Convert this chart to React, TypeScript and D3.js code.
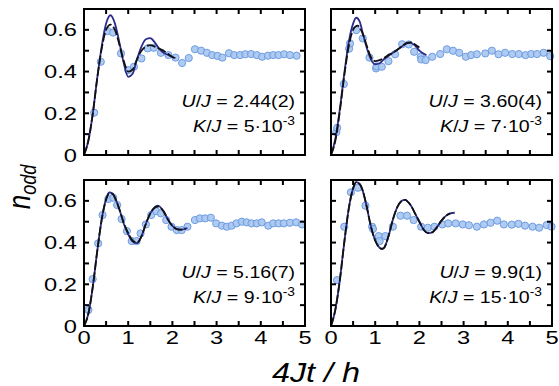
import React from 'react';
import * as d3 from 'd3';

// measured points (4Jt/h, n_odd) for each panel
const dataA = [[0.23,0.203],[0.38,0.447],[0.535,0.594],[0.656,0.587],[0.837,0.487],[1.0,0.407],[1.13,0.423],[1.30,0.463],[1.44,0.511],[1.58,0.514],[1.74,0.490],[1.91,0.479],[2.07,0.467],[2.22,0.441],[2.37,0.465],[2.51,0.507],[2.65,0.50],[2.78,0.490],[2.90,0.479],[3.02,0.475],[3.13,0.467],[3.28,0.488],[3.40,0.479],[3.53,0.479],[3.65,0.483],[3.78,0.484],[3.91,0.479],[4.03,0.471],[4.16,0.476],[4.28,0.479],[4.40,0.479],[4.53,0.483],[4.66,0.479],[4.81,0.476]];
const dataB = [[0.12,0.11],[0.14,0.13],[0.29,0.34],[0.41,0.51],[0.43,0.535],[0.57,0.599],[0.72,0.559],[0.87,0.467],[1.02,0.415],[1.03,0.425],[1.15,0.423],[1.30,0.45],[1.45,0.483],[1.61,0.531],[1.76,0.53],[1.88,0.495],[2.03,0.471],[2.04,0.458],[2.14,0.455],[2.29,0.471],[2.47,0.484],[2.62,0.507],[2.76,0.50],[2.90,0.49],[3.05,0.471],[3.17,0.479],[3.30,0.483],[3.49,0.487],[3.64,0.50],[3.79,0.483],[3.94,0.490],[4.10,0.484],[4.25,0.484],[4.40,0.479],[4.53,0.484],[4.66,0.484],[4.81,0.490],[4.96,0.474]];
const dataC = [[0.10,0.077],[0.196,0.225],[0.32,0.396],[0.42,0.532],[0.55,0.609],[0.66,0.615],[0.75,0.580],[0.85,0.513],[0.97,0.455],[1.08,0.407],[1.19,0.407],[1.28,0.444],[1.40,0.487],[1.52,0.532],[1.63,0.551],[1.74,0.54],[1.86,0.508],[1.98,0.476],[2.10,0.46],[2.21,0.46],[2.34,0.476],[2.51,0.508],[2.62,0.516],[2.74,0.516],[2.87,0.519],[2.99,0.492],[3.12,0.481],[3.23,0.476],[3.34,0.481],[3.45,0.492],[3.57,0.50],[3.68,0.497],[3.79,0.492],[3.91,0.492],[4.02,0.497],[4.17,0.481],[4.28,0.492],[4.40,0.492],[4.52,0.492],[4.66,0.495],[4.80,0.497],[4.93,0.487]];
const dataD = [[0.136,0.22],[0.30,0.476],[0.45,0.641],[0.61,0.663],[0.78,0.577],[0.93,0.476],[0.95,0.465],[1.08,0.431],[1.10,0.407],[1.23,0.431],[1.40,0.476],[1.57,0.529],[1.72,0.529],[1.87,0.508],[2.04,0.476],[2.19,0.471],[2.34,0.476],[2.52,0.487],[2.65,0.492],[2.82,0.492],[2.98,0.487],[3.12,0.483],[3.30,0.476],[3.46,0.487],[3.61,0.495],[3.76,0.505],[3.91,0.487],[4.09,0.486],[4.24,0.49],[4.39,0.481],[4.56,0.476],[4.71,0.471],[4.88,0.484],[4.99,0.476]];

// theory curves
const blueA = [[0,0],[0.1,0.07],[0.2,0.2],[0.3,0.37],[0.4,0.52],[0.5,0.63],[0.6,0.67],[0.7,0.63],[0.8,0.54],[0.9,0.44],[1.0,0.375],[1.1,0.39],[1.2,0.46],[1.3,0.52],[1.4,0.555],[1.5,0.56],[1.6,0.54],[1.7,0.51],[1.8,0.49],[1.9,0.48],[2.0,0.47],[2.07,0.465]];
const blackA = [[0,0],[0.1,0.07],[0.2,0.2],[0.3,0.37],[0.4,0.51],[0.5,0.6],[0.6,0.625],[0.7,0.6],[0.8,0.53],[0.9,0.45],[1.0,0.40],[1.1,0.41],[1.2,0.46],[1.3,0.50],[1.4,0.52],[1.5,0.527],[1.6,0.52],[1.7,0.51],[1.8,0.50],[1.9,0.485],[2.0,0.47],[2.05,0.465]];
const blueB = [[0,0],[0.1,0.08],[0.2,0.22],[0.3,0.39],[0.4,0.54],[0.5,0.63],[0.57,0.658],[0.65,0.64],[0.7,0.6],[0.8,0.52],[0.9,0.46],[1.0,0.435],[1.1,0.44],[1.2,0.46],[1.3,0.475],[1.4,0.49],[1.5,0.505],[1.6,0.52],[1.7,0.535],[1.8,0.538],[1.9,0.525],[2.0,0.50],[2.1,0.485],[2.16,0.478]];
const blackB = [[0,0],[0.1,0.07],[0.2,0.21],[0.3,0.38],[0.4,0.52],[0.5,0.60],[0.6,0.62],[0.7,0.59],[0.8,0.53],[0.9,0.47],[1.0,0.45],[1.1,0.455],[1.2,0.465],[1.3,0.48],[1.4,0.49],[1.5,0.505],[1.6,0.52],[1.7,0.535],[1.8,0.54],[1.9,0.53],[2.0,0.515]];
const blueC = [[0,0],[0.1,0.06],[0.2,0.19],[0.3,0.36],[0.4,0.51],[0.5,0.61],[0.57,0.64],[0.65,0.635],[0.7,0.615],[0.8,0.56],[0.9,0.49],[1.0,0.44],[1.1,0.405],[1.2,0.397],[1.3,0.43],[1.4,0.49],[1.5,0.54],[1.6,0.57],[1.67,0.577],[1.8,0.55],[1.9,0.51],[2.0,0.48],[2.1,0.465],[2.2,0.462],[2.34,0.47]];
const blackC = [[0,0],[0.1,0.06],[0.2,0.19],[0.3,0.36],[0.4,0.51],[0.5,0.605],[0.57,0.635],[0.65,0.632],[0.7,0.615],[0.8,0.56],[0.9,0.495],[1.0,0.445],[1.1,0.41],[1.2,0.40],[1.3,0.43],[1.4,0.49],[1.5,0.54],[1.6,0.567],[1.67,0.573],[1.8,0.55],[1.9,0.51],[2.0,0.48],[2.1,0.465],[2.2,0.462],[2.3,0.468]];
const blueD = [[0,0],[0.1,0.08],[0.2,0.22],[0.3,0.40],[0.4,0.56],[0.5,0.66],[0.57,0.69],[0.65,0.68],[0.7,0.66],[0.8,0.58],[0.9,0.48],[1.0,0.41],[1.1,0.375],[1.15,0.37],[1.2,0.375],[1.3,0.43],[1.4,0.51],[1.5,0.57],[1.6,0.60],[1.67,0.605],[1.8,0.58],[1.9,0.54],[2.0,0.50],[2.1,0.46],[2.2,0.445],[2.3,0.45],[2.4,0.475],[2.5,0.505],[2.6,0.528],[2.7,0.54],[2.8,0.543]];
const blackD = [[0,0],[0.1,0.08],[0.2,0.22],[0.3,0.40],[0.4,0.56],[0.5,0.66],[0.57,0.69],[0.65,0.68],[0.7,0.66],[0.8,0.58],[0.9,0.48],[1.0,0.41],[1.1,0.375],[1.15,0.37],[1.2,0.375],[1.3,0.43],[1.4,0.51],[1.5,0.57],[1.6,0.60],[1.67,0.605],[1.8,0.58],[1.9,0.54],[2.0,0.50],[2.1,0.46],[2.2,0.445],[2.3,0.45],[2.4,0.475],[2.5,0.505],[2.6,0.528],[2.7,0.54]];

const uLabels = ['2.44(2)', '3.60(4)', '5.16(7)', '9.9(1)'];
const kLabels = ['5', '7', '9', '15'];
const xTickLabels = [0, 1, 2, 3, 4, 5];
const yTickLabels = [0, 0.2, 0.4, 0.6];

const W = 559, H = 386;
const PW = 221, PH = 146;
const SX = 1.28; // the figure is stretched sideways
const FONT = 'Liberation Sans, Arial, sans-serif';
const NAVY = '#2b2c8c';

const panels = [
  { x0: 84, y0: 9, pts: dataA, blue: blueA, black: blackA, u: uLabels[0], k: kLabels[0], left: true, bottom: false },
  { x0: 331, y0: 9, pts: dataB, blue: blueB, black: blackB, u: uLabels[1], k: kLabels[1], left: false, bottom: false },
  { x0: 84, y0: 180, pts: dataC, blue: blueC, black: blackC, u: uLabels[2], k: kLabels[2], left: true, bottom: true },
  { x0: 331, y0: 180, pts: dataD, blue: blueD, black: blackD, u: uLabels[3], k: kLabels[3], left: false, bottom: true },
];

function Panel({ p }) {
  const x = d3.scaleLinear().domain([0, 5]).range([p.x0, p.x0 + PW]);
  const y = d3.scaleLinear().domain([0, 0.7]).range([p.y0 + PH, p.y0]);
  const line = d3.line().x(d => x(d[0])).y(d => y(d[1])).curve(d3.curveMonotoneX);
  const xt = d3.range(0, 5.01, 0.5);
  const yt = d3.range(0, 0.71, 0.1);
  const tl = 5;
  const xr = p.x0 + PW - 10;
  return (
    <g>
      {p.pts.map((d, i) => (
        <circle key={i} cx={x(d[0])} cy={y(d[1])} r={3.6} fill="#a7c5f0" stroke="#6d9de2" strokeWidth={1} fillOpacity={0.9} />
      ))}
      <path d={line(p.blue)} fill="none" stroke={NAVY} strokeWidth={1.8} />
      <path d={line(p.black)} fill="none" stroke="#111" strokeWidth={1.8} strokeDasharray="9,2.5" />
      <rect x={p.x0} y={p.y0} width={PW} height={PH} fill="none" stroke="#000" strokeWidth={2} />
      {xt.map((t, i) => (
        <g key={'x' + i}>
          <line x1={x(t)} x2={x(t)} y1={p.y0 + PH} y2={p.y0 + PH - tl} stroke="#000" strokeWidth={2} />
          <line x1={x(t)} x2={x(t)} y1={p.y0} y2={p.y0 + tl} stroke="#000" strokeWidth={2} />
        </g>
      ))}
      {yt.map((v, i) => (
        <g key={'y' + i}>
          <line x1={p.x0} x2={p.x0 + tl} y1={y(v)} y2={y(v)} stroke="#000" strokeWidth={2} />
          <line x1={p.x0 + PW} x2={p.x0 + PW - tl} y1={y(v)} y2={y(v)} stroke="#000" strokeWidth={2} />
        </g>
      ))}
      {p.left && yTickLabels.map((v, i) => (
        <text key={'yl' + i} transform={`translate(${p.x0 - 7},${y(v) + 6.5}) scale(${SX},1)`} textAnchor="end" fontSize={18.5} fontFamily={FONT}>{String(v)}</text>
      ))}
      {p.bottom && xTickLabels.map((v, i) => (
        <text key={'xl' + i} transform={`translate(${x(v)},${p.y0 + PH + 18}) scale(${SX},1)`} textAnchor="middle" fontSize={18.5} fontFamily={FONT}>{String(v)}</text>
      ))}
      <text transform={`translate(${xr},${p.y0 + 98}) scale(1.15,1)`} textAnchor="end" fontSize={17} fontFamily={FONT}>
        <tspan fontStyle="italic">U</tspan>/<tspan fontStyle="italic">J</tspan> = {p.u}
      </text>
      <text transform={`translate(${xr},${p.y0 + 123}) scale(1.15,1)`} textAnchor="end" fontSize={17} fontFamily={FONT}>
        <tspan fontStyle="italic">K</tspan>/<tspan fontStyle="italic">J</tspan> = {p.k}·10<tspan fontSize={12} dy={-7}>-3</tspan>
      </text>
    </g>
  );
}

export default function App() {
  return (
    <svg width={W} height={H} style={{ position: 'absolute', left: 0, top: 0, background: '#fff' }}>
      {panels.map((p, i) => <Panel key={i} p={p} />)}
      <text transform={`translate(30,187) scale(1.2,1) rotate(-90)`} textAnchor="middle" fontFamily={FONT} fontStyle="italic" fontSize={26}>
        n<tspan fontSize={18} dy={5}>odd</tspan>
      </text>
      <text transform={`translate(316,382) scale(1.2,1)`} textAnchor="middle" fontFamily={FONT} fontStyle="italic" fontSize={27}>4Jt / h</text>
    </svg>
  );
}
